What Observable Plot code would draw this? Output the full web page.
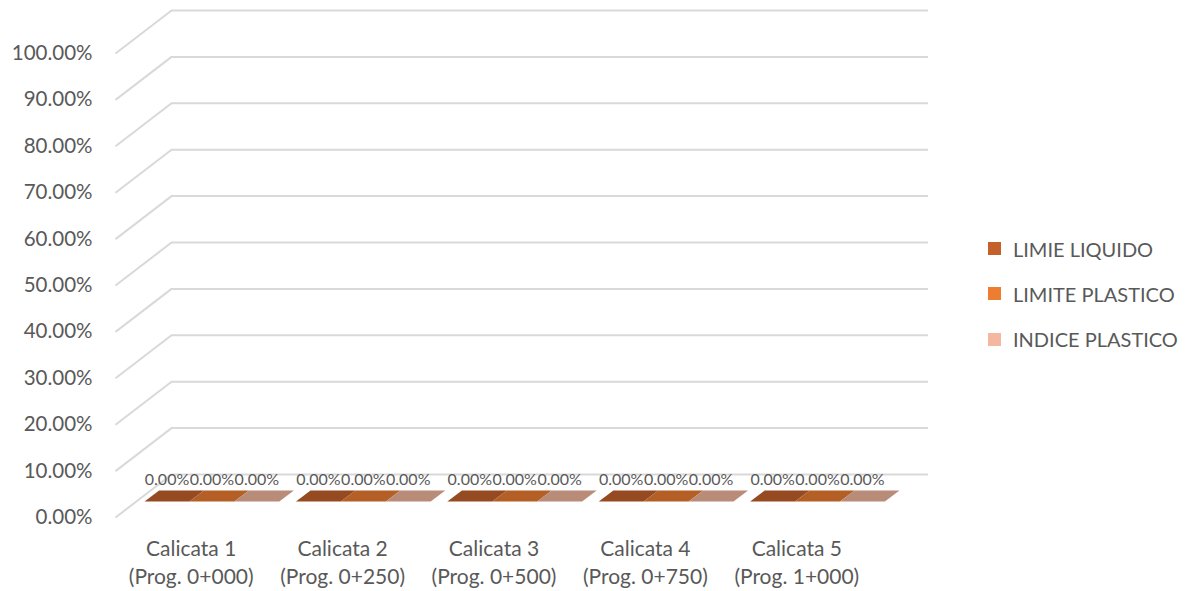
<!DOCTYPE html>
<html>
<head>
<meta charset="utf-8">
<script src="https://cdn.jsdelivr.net/npm/d3@7"></script>
<script src="https://cdn.jsdelivr.net/npm/@observablehq/plot@0.6"></script>
<style>
  body { margin: 0; background: #fff; }
  #wrap { position: relative; width: 1190px; height: 591px; font-family: Lato, "Open Sans", sans-serif; }
  #chart { position: absolute; left: 0; top: 0; }
  #legend { position: absolute; left: 988px; top: 226px; }
  .item { display: flex; align-items: center; height: 45.3px; color: #595959; font-size: 20px; white-space: nowrap; }
  .sw { width: 13px; height: 13px; margin-right: 12px; flex: none; }
</style>
</head>
<body>
<div id="wrap"><div id="chart"></div><div id="legend"></div></div>
<script>
// Soil test pits along the alignment
const categories = [
  "Calicata 1\n(Prog. 0+000)",
  "Calicata 2\n(Prog. 0+250)",
  "Calicata 3\n(Prog. 0+500)",
  "Calicata 4\n(Prog. 0+750)",
  "Calicata 5\n(Prog. 1+000)"
];
const seriesNames = ["LIMIE LIQUIDO", "LIMITE PLASTICO", "INDICE PLASTICO"];
const limiteLiquido  = [0, 0, 0, 0, 0];
const limitePlastico = [0, 0, 0, 0, 0];
const indicePlastico = [0, 0, 0, 0, 0];
const seriesValues = [limiteLiquido, limitePlastico, indicePlastico];
const seriesColors = ["#C4612B", "#ED7D31", "#F4B8A0"];
const yTicks = [0, 0.1, 0.2, 0.3, 0.4, 0.5, 0.6, 0.7, 0.8, 0.9, 1.0];

// 3D projection expressed in scale units: the back wall sits DX categories
// to the right and DY (fraction of 100%) above the front plane.
const DX = 0.37, DY = 0.0927;
const GAP = 0.055;                 // space on each side of a cluster
const BW = (1 - 2 * GAP) / 3;      // width of one column
const D0 = 0.37, D1 = 0.63;        // column's front/back depth fraction
const grid = "#D9D9D9";
const textColor = "#595959";
const shade = (c, k) => { const r = d3.rgb(c); return d3.rgb(r.r * k, r.g * k, r.b * k).formatHex(); };

const rows = [];
seriesValues.forEach((vals, s) => vals.forEach((v, c) => rows.push({c, s, v, x0: c + GAP + s * BW, x1: c + GAP + (s + 1) * BW})));

// polygons of each visible column face
const topFace = [], sideFace = [];
rows.forEach((r, i) => {
  const id = `b${i}`;
  topFace.push(
    {id, s: r.s, x: r.x0 + D0 * DX, y: r.v + D0 * DY},
    {id, s: r.s, x: r.x1 + D0 * DX, y: r.v + D0 * DY},
    {id, s: r.s, x: r.x1 + D1 * DX, y: r.v + D1 * DY},
    {id, s: r.s, x: r.x0 + D1 * DX, y: r.v + D1 * DY}
  );
  sideFace.push(
    {id, s: r.s, x: r.x1 + D0 * DX, y: D0 * DY},
    {id, s: r.s, x: r.x1 + D1 * DX, y: D1 * DY},
    {id, s: r.s, x: r.x1 + D1 * DX, y: r.v + D1 * DY},
    {id, s: r.s, x: r.x1 + D0 * DX, y: r.v + D0 * DY}
  );
});

const faceMarks = seriesColors.flatMap((col, s) => [
  Plot.rectY(rows.filter(r => r.s === s), {
    x1: r => r.x0 + D0 * DX, x2: r => r.x1 + D0 * DX,
    y1: D0 * DY, y2: r => r.v + D0 * DY, fill: col, insetLeft: 0, insetRight: 0
  }),
  Plot.line(sideFace.filter(p => p.s === s), {x: "x", y: "y", z: "id", fill: shade(col, 0.85), stroke: "none"}),
  Plot.line(topFace.filter(p => p.s === s), {x: "x", y: "y", z: "id", fill: shade(col, 0.76), stroke: "none"})
]);

const pct = d3.format(".2%");

const chart = Plot.plot({
  width: 960,
  height: 591,
  marginLeft: 115,
  marginRight: 88,
  marginTop: 53,
  marginBottom: 74,
  x: {type: "linear", domain: [0, 5], axis: null},
  y: {type: "linear", domain: [0, 1], axis: null},
  style: {fontFamily: "Lato, 'Open Sans', sans-serif", color: textColor, background: "#fff"},
  marks: [
    // side wall diagonals and back wall gridlines
    Plot.link(yTicks, {x1: 0, y1: d => d, x2: DX, y2: d => d + DY, stroke: grid, strokeWidth: 2}),
    Plot.ruleY(yTicks, {y: d => d + DY, x1: DX, x2: 5 + DX, stroke: grid, strokeWidth: 2}),
    // value axis labels
    Plot.text(yTicks, {x: 0, y: d => d, text: d => pct(d), textAnchor: "end", dx: -23, fontSize: 20.5, fill: textColor}),
    ...faceMarks,
    // data labels
    Plot.text(rows, {
      x: r => (r.x0 + r.x1) / 2 + D0 * DX, y: r => r.v + D0 * DY,
      text: r => pct(r.v), dy: -22, fontSize: 16, fill: textColor
    }),
    // category labels
    Plot.text(categories, {
      x: (d, i) => i + 0.5, y: 0, text: d => d, dy: 44,
      lineAnchor: "middle", lineHeight: 1.33, fontSize: 21, fill: textColor
    })
  ]
});
document.getElementById("chart").appendChild(chart);

const legend = document.getElementById("legend");
seriesNames.forEach((name, i) => {
  const item = document.createElement("div");
  item.className = "item";
  item.innerHTML = `<span class="sw" style="background:${seriesColors[i]}"></span><span>${name}</span>`;
  legend.appendChild(item);
});
</script>
</body>
</html>
